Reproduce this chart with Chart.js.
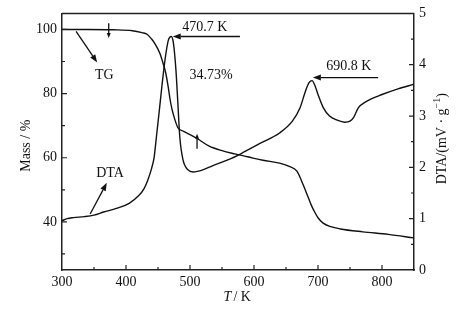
<!DOCTYPE html>
<html>
<head>
<meta charset="utf-8">
<script src="https://cdn.jsdelivr.net/npm/chart.js@4"></script>
<style>
  body { margin: 0; background: #fff; }
  #wrap { width: 473px; height: 325px; position: relative; }
</style>
</head>
<body>
<div id="wrap"><canvas id="chart"></canvas></div>
<script>
// TG curve (mass %, left axis)
const tgTemp = [300, 340, 380, 410, 425, 433, 440, 445, 453, 458, 462, 466, 469, 472, 477, 481, 490, 500, 511, 530, 550, 570, 590, 614, 640, 656, 667, 677, 684, 690, 695, 700, 708, 720, 735, 770, 810, 850];
const tgMass = [100, 100, 99.9, 99.6, 99.0, 98.5, 97, 95.6, 92.5, 89.4, 86.5, 82, 78, 75, 71.5, 69.4, 68.2, 67.2, 66, 63.6, 62.2, 61.2, 60.3, 59.2, 58.3, 57.2, 55.8, 51.5, 48, 45, 43, 41.3, 39.6, 38.5, 37.8, 36.9, 36.1, 35];

// DTA curve (mV/g, right axis)
const dtaTemp = [300, 308, 318, 335, 350, 365, 385, 405, 420, 428, 434, 440, 444, 448, 452, 456, 461, 466, 470.7, 474, 478, 481, 484, 489, 497, 505, 520, 535, 560, 580, 610, 640, 660, 672, 680, 686, 690.8, 695, 700, 708, 718, 730, 742, 750, 756, 763, 775, 800, 825, 850];
const dtaSignal = [0.96, 1.0, 1.02, 1.04, 1.07, 1.13, 1.2, 1.3, 1.45, 1.58, 1.75, 1.98, 2.2, 2.65, 3.1, 3.57, 4.1, 4.47, 4.55, 4.43, 3.9, 3.26, 2.6, 2.15, 1.95, 1.91, 1.95, 2.03, 2.15, 2.27, 2.47, 2.67, 2.9, 3.16, 3.47, 3.65, 3.69, 3.6, 3.42, 3.17, 3.0, 2.92, 2.88, 2.9, 2.98, 3.16, 3.28, 3.42, 3.53, 3.62];

// axis ticks
const tempTicks = [300, 400, 500, 600, 700, 800];
const massTicks = [40, 60, 80, 100];
const dtaTicks = [0, 1, 2, 3, 4, 5];

// annotation texts (data units)
const notes = [
  { text: 'TG', x: 366, y: 85.6, axis: 'y' },
  { text: 'DTA', x: 375, y: 1.89, axis: 'y1' },
  { text: '470.7 K', x: 523, y: 4.73, axis: 'y1' },
  { text: '34.73%', x: 533, y: 85.6, axis: 'y' },
  { text: '690.8 K', x: 748, y: 3.96, axis: 'y1' }
];
const pointers = [
  { from: [322, 99.4], to: [355, 89.7], axis: 'y' },
  { from: [344, 1.09], to: [370, 1.70], axis: 'y1' },
  { from: [578, 4.55], to: [473, 4.55], axis: 'y1' },
  { from: [794, 3.75], to: [692, 3.75], axis: 'y1' },
  { from: [373, 101.9], to: [373, 97.3], axis: 'y', small: true },
  { from: [511, 62.8], to: [511, 67.5], axis: 'y', small: true }
];

const FONT = '"Liberation Serif", "Times New Roman", serif';
const INK = '#111';

function arrow(ctx, x1, y1, x2, y2, head, half) {
  const ang = Math.atan2(y2 - y1, x2 - x1);
  const bx = x2 - head * Math.cos(ang), by = y2 - head * Math.sin(ang);
  ctx.beginPath();
  ctx.moveTo(x1, y1);
  ctx.lineTo(bx, by);
  ctx.stroke();
  ctx.beginPath();
  ctx.moveTo(x2, y2);
  ctx.lineTo(bx + half * Math.sin(ang), by - half * Math.cos(ang));
  ctx.lineTo(bx - half * Math.sin(ang), by + half * Math.cos(ang));
  ctx.closePath();
  ctx.fill();
}

const decor = {
  id: 'decor',
  afterDraw(chart) {
    const { ctx, chartArea: a, scales } = chart;
    const sx = scales.x, sy = scales.y, sy1 = scales.y1;
    ctx.save();
    ctx.strokeStyle = '#222';
    ctx.lineWidth = 1.5;
    // top border
    ctx.beginPath();
    ctx.moveTo(a.left, a.top);
    ctx.lineTo(a.right, a.top);
    ctx.stroke();

    // inward ticks
    ctx.lineWidth = 1.2;
    ctx.beginPath();
    for (let v = 350; v < 850; v += 50) {
      const p = sx.getPixelForValue(v);
      const len = v % 100 === 0 ? 5 : 3;
      ctx.moveTo(p, a.bottom);
      ctx.lineTo(p, a.bottom - len);
    }
    for (let v = 30; v <= 100; v += 10) {
      const p = sy.getPixelForValue(v);
      const len = v % 20 === 0 ? 5 : 3;
      ctx.moveTo(a.left, p);
      ctx.lineTo(a.left + len, p);
    }
    for (let v = 0.5; v < 5; v += 0.5) {
      const p = sy1.getPixelForValue(v);
      const len = Number.isInteger(v) ? 5 : 3;
      ctx.moveTo(a.right, p);
      ctx.lineTo(a.right - len, p);
    }
    ctx.stroke();

    // annotations
    ctx.fillStyle = INK;
    ctx.strokeStyle = INK;
    ctx.font = '14px ' + FONT;
    ctx.textAlign = 'center';
    ctx.textBaseline = 'middle';
    notes.forEach(n => {
      ctx.fillText(n.text, sx.getPixelForValue(n.x), scales[n.axis].getPixelForValue(n.y));
    });
    ctx.lineWidth = 1.3;
    pointers.forEach(p => {
      const s = scales[p.axis];
      arrow(ctx,
        sx.getPixelForValue(p.from[0]), s.getPixelForValue(p.from[1]),
        sx.getPixelForValue(p.to[0]), s.getPixelForValue(p.to[1]),
        p.small ? 5 : 8, p.small ? 2 : 3);
    });

    // axis titles
    const cy = (a.top + a.bottom) / 2;
    ctx.save();
    ctx.translate(a.left - 36, cy + 4);
    ctx.rotate(-Math.PI / 2);
    ctx.fillText('Mass / %', 0, 0);
    ctx.restore();

    ctx.save();
    ctx.translate(a.right + 28, cy - 3);
    ctx.rotate(-Math.PI / 2);
    const main = 'DTA/(mV · g';
    ctx.font = '14px ' + FONT;
    const w1 = ctx.measureText(main).width;
    ctx.font = '10px ' + FONT;
    const w2 = ctx.measureText('−1').width;
    ctx.font = '14px ' + FONT;
    const w3 = ctx.measureText(')').width;
    let x0 = -(w1 + w2 + w3) / 2;
    ctx.textAlign = 'left';
    ctx.fillText(main, x0, 0);
    ctx.font = '10px ' + FONT;
    ctx.fillText('−1', x0 + w1, -5);
    ctx.font = '14px ' + FONT;
    ctx.fillText(')', x0 + w1 + w2, 0);
    ctx.restore();

    const bx = (a.left + a.right) / 2, by = a.bottom + 27;
    ctx.textAlign = 'left';
    ctx.font = 'italic 14px ' + FONT;
    const wt = ctx.measureText('T').width;
    ctx.font = '14px ' + FONT;
    const wr = ctx.measureText(' / K').width;
    const sx0 = bx - (wt + wr) / 2;
    ctx.font = 'italic 14px ' + FONT;
    ctx.fillText('T', sx0, by);
    ctx.font = '14px ' + FONT;
    ctx.fillText('/ K', sx0 + wt + 2, by);
    ctx.restore();
  }
};

const tickFont = { family: FONT, size: 14 };

new Chart(document.getElementById('chart').getContext('2d'), {
  type: 'line',
  data: {
    datasets: [
      {
        label: 'TG',
        data: tgTemp.map((t, i) => ({ x: t, y: tgMass[i] })),
        yAxisID: 'y',
        borderColor: INK,
        borderWidth: 1.4,
        cubicInterpolationMode: 'monotone',
        pointRadius: 0,
        fill: false
      },
      {
        label: 'DTA',
        data: dtaTemp.map((t, i) => ({ x: t, y: dtaSignal[i] })),
        yAxisID: 'y1',
        borderColor: INK,
        borderWidth: 1.4,
        cubicInterpolationMode: 'monotone',
        pointRadius: 0,
        fill: false
      }
    ]
  },
  plugins: [decor],
  options: {
    responsive: true,
    maintainAspectRatio: false,
    animation: false,
    layout: { padding: { top: 13, left: 0, right: 0, bottom: 0 } },
    plugins: { legend: { display: false }, tooltip: { enabled: false } },
    scales: {
      x: {
        type: 'linear',
        min: 300,
        max: 850,
        grid: { display: false, drawTicks: false },
        border: { display: true, color: '#222', width: 1.5 },
        afterBuildTicks: s => { s.ticks = tempTicks.map(v => ({ value: v })); },
        ticks: { color: INK, font: tickFont, padding: 4, maxRotation: 0, autoSkip: false },
        afterFit: s => { s.height = 55; }
      },
      y: {
        type: 'linear',
        position: 'left',
        min: 25,
        max: 105,
        grid: { display: false, drawTicks: false },
        border: { display: true, color: '#222', width: 1.5 },
        afterBuildTicks: s => { s.ticks = massTicks.map(v => ({ value: v })); },
        ticks: { color: INK, font: tickFont, padding: 5, autoSkip: false },
        afterFit: s => { s.width = 62; }
      },
      y1: {
        type: 'linear',
        position: 'right',
        min: 0,
        max: 5,
        grid: { display: false, drawTicks: false },
        border: { display: true, color: '#222', width: 1.5 },
        afterBuildTicks: s => { s.ticks = dtaTicks.map(v => ({ value: v })); },
        ticks: { color: INK, font: tickFont, padding: 5, autoSkip: false },
        afterFit: s => { s.width = 59; }
      }
    }
  }
});
</script>
</body>
</html>
